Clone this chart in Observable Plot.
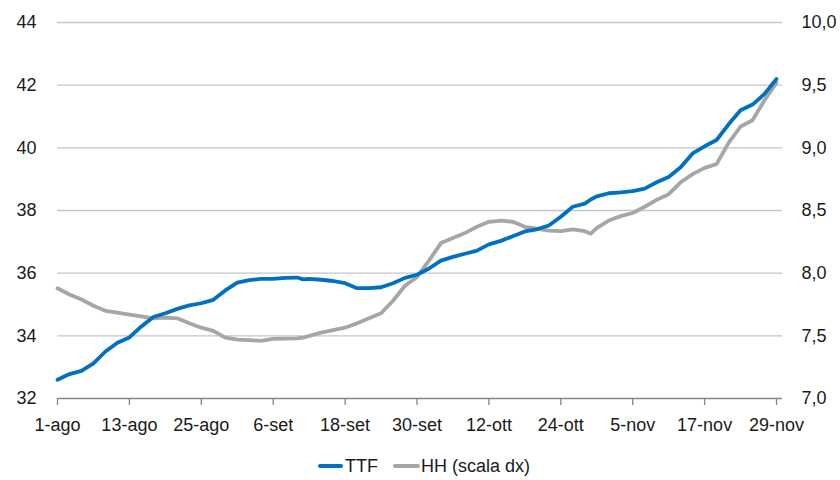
<!DOCTYPE html>
<html>
<head>
<meta charset="utf-8">
<script src="https://cdn.jsdelivr.net/npm/d3@7"></script>
<script src="https://cdn.jsdelivr.net/npm/@observablehq/plot@0.6"></script>
<style>
  html, body { margin: 0; padding: 0; background: #fff; }
  body { width: 840px; height: 480px; overflow: hidden; font-family: "Liberation Sans", Arial, sans-serif; color: #1a1a1a; }
  #legend { height: 52px; display: flex; justify-content: center; align-items: center; font-size: 18px; padding-left: 8px; box-sizing: border-box; }
  .sw { display: inline-block; height: 4px; border-radius: 2px; }
</style>
</head>
<body>
<div id="chart"></div>
<div id="legend">
  <span class="sw" style="width:25px;background:#0070c0"></span><span style="margin-left:2px">TTF</span>
  <span class="sw" style="width:27px;background:#a6a6a6;margin-left:15px"></span><span style="margin-left:1px">HH (scala dx)</span>
</div>
<script>
const dates = ["08-01","08-03","08-05","08-07","08-09","08-11","08-13","08-15","08-17","08-19","08-21","08-23","08-25","08-27","08-29","08-31",
"09-02","09-04","09-06","09-08","09-10","09-11","09-12","09-14","09-16","09-18","09-20","09-22","09-24","09-26","09-28","09-30",
"10-02","10-04","10-06","10-08","10-10","10-12","10-14","10-16","10-18","10-20","10-22","10-24","10-26","10-28","10-29","10-30",
"11-01","11-03","11-05","11-07","11-09","11-11","11-13","11-15","11-17","11-19","11-21","11-23","11-25","11-27","11-29"];
// TTF (left scale)
const ttf = [32.6,32.78,32.88,33.12,33.5,33.78,33.95,34.3,34.6,34.72,34.86,34.97,35.04,35.15,35.45,35.7,
35.78,35.82,35.82,35.85,35.86,35.8,35.82,35.79,35.75,35.68,35.52,35.52,35.55,35.68,35.85,35.95,
36.15,36.4,36.52,36.62,36.72,36.92,37.03,37.18,37.33,37.4,37.52,37.8,38.12,38.22,38.35,38.45,
38.55,38.58,38.62,38.7,38.9,39.07,39.38,39.82,40.05,40.25,40.75,41.2,41.38,41.72,42.2];
// HH (right scale)
const hh = [7.88,7.83,7.79,7.74,7.70,7.685,7.67,7.655,7.64,7.645,7.64,7.60,7.565,7.54,7.485,7.47,
7.465,7.46,7.475,7.478,7.48,7.485,7.50,7.525,7.545,7.565,7.60,7.64,7.68,7.78,7.90,7.97,
8.10,8.24,8.28,8.32,8.37,8.41,8.42,8.41,8.37,8.355,8.34,8.335,8.35,8.335,8.315,8.36,
8.42,8.455,8.48,8.53,8.585,8.63,8.725,8.79,8.84,8.87,9.04,9.17,9.22,9.38,9.52];

const tickDateStrs = ["08-01","08-13","08-25","09-06","09-18","09-30","10-12","10-24","11-05","11-17","11-29"];
const tickLabels = ["1-ago","13-ago","25-ago","6-set","18-set","30-set","12-ott","24-ott","5-nov","17-nov","29-nov"];
const leftTicks = [32, 34, 36, 38, 40, 42, 44];
const rightTicks = [7.0, 7.5, 8.0, 8.5, 9.0, 9.5, 10.0];

const year = 2014;
const toDate = s => new Date(`${year}-${s}T00:00:00Z`);
const leftMin = 32, leftMax = 44, rightMin = 7, rightMax = 10;
const hhToLeft = v => leftMin + (v - rightMin) * (leftMax - leftMin) / (rightMax - rightMin);
const fmtIt = v => d3.format(".1f")(v).replace(".", ",");

const data = dates.map((d, i) => ({date: toDate(d), ttf: ttf[i], hh: hh[i]}));
const tickDates = tickDateStrs.map(toDate);

const chart = Plot.plot({
  width: 840,
  height: 440,
  marginLeft: 57,
  marginRight: 58,
  marginTop: 22,
  marginBottom: 42,
  style: {fontFamily: "'Liberation Sans', Arial, sans-serif", fontSize: "18px", color: "#1a1a1a", background: "#fff"},
  x: {type: "utc", domain: [toDate("08-01"), toDate("11-30")]},
  y: {domain: [leftMin, leftMax]},
  marks: [
    Plot.gridY(leftTicks.slice(1), {stroke: "#c6c6c6", strokeOpacity: 1, strokeWidth: 1.3}),
    Plot.axisY({anchor: "left", ticks: leftTicks, tickSize: 0, tickPadding: 21, label: null, fontSize: 18, tickFormat: d => String(d)}),
    Plot.axisY({anchor: "right", ticks: leftTicks, tickSize: 0, tickPadding: 19, label: null, fontSize: 18,
      tickFormat: (d, i) => fmtIt(rightTicks[leftTicks.indexOf(d)])}),
    Plot.ruleY([leftMin], {stroke: "#868686", strokeWidth: 1.3}),
    Plot.axisX({ticks: tickDates, tickSize: 7, tickPadding: 13, label: null, fontSize: 18, stroke: "#868686", strokeWidth: 1.3,
      tickFormat: d => tickLabels[tickDates.findIndex(t => +t === +d)]}),
    Plot.line(data, {x: "date", y: d => hhToLeft(d.hh), stroke: "#a6a6a6", strokeWidth: 3.8, strokeLinejoin: "round", strokeLinecap: "round"}),
    Plot.line(data, {x: "date", y: "ttf", stroke: "#0070c0", strokeWidth: 3.8, strokeLinejoin: "round", strokeLinecap: "round"})
  ]
});
document.getElementById("chart").appendChild(chart);
</script>
</body>
</html>
